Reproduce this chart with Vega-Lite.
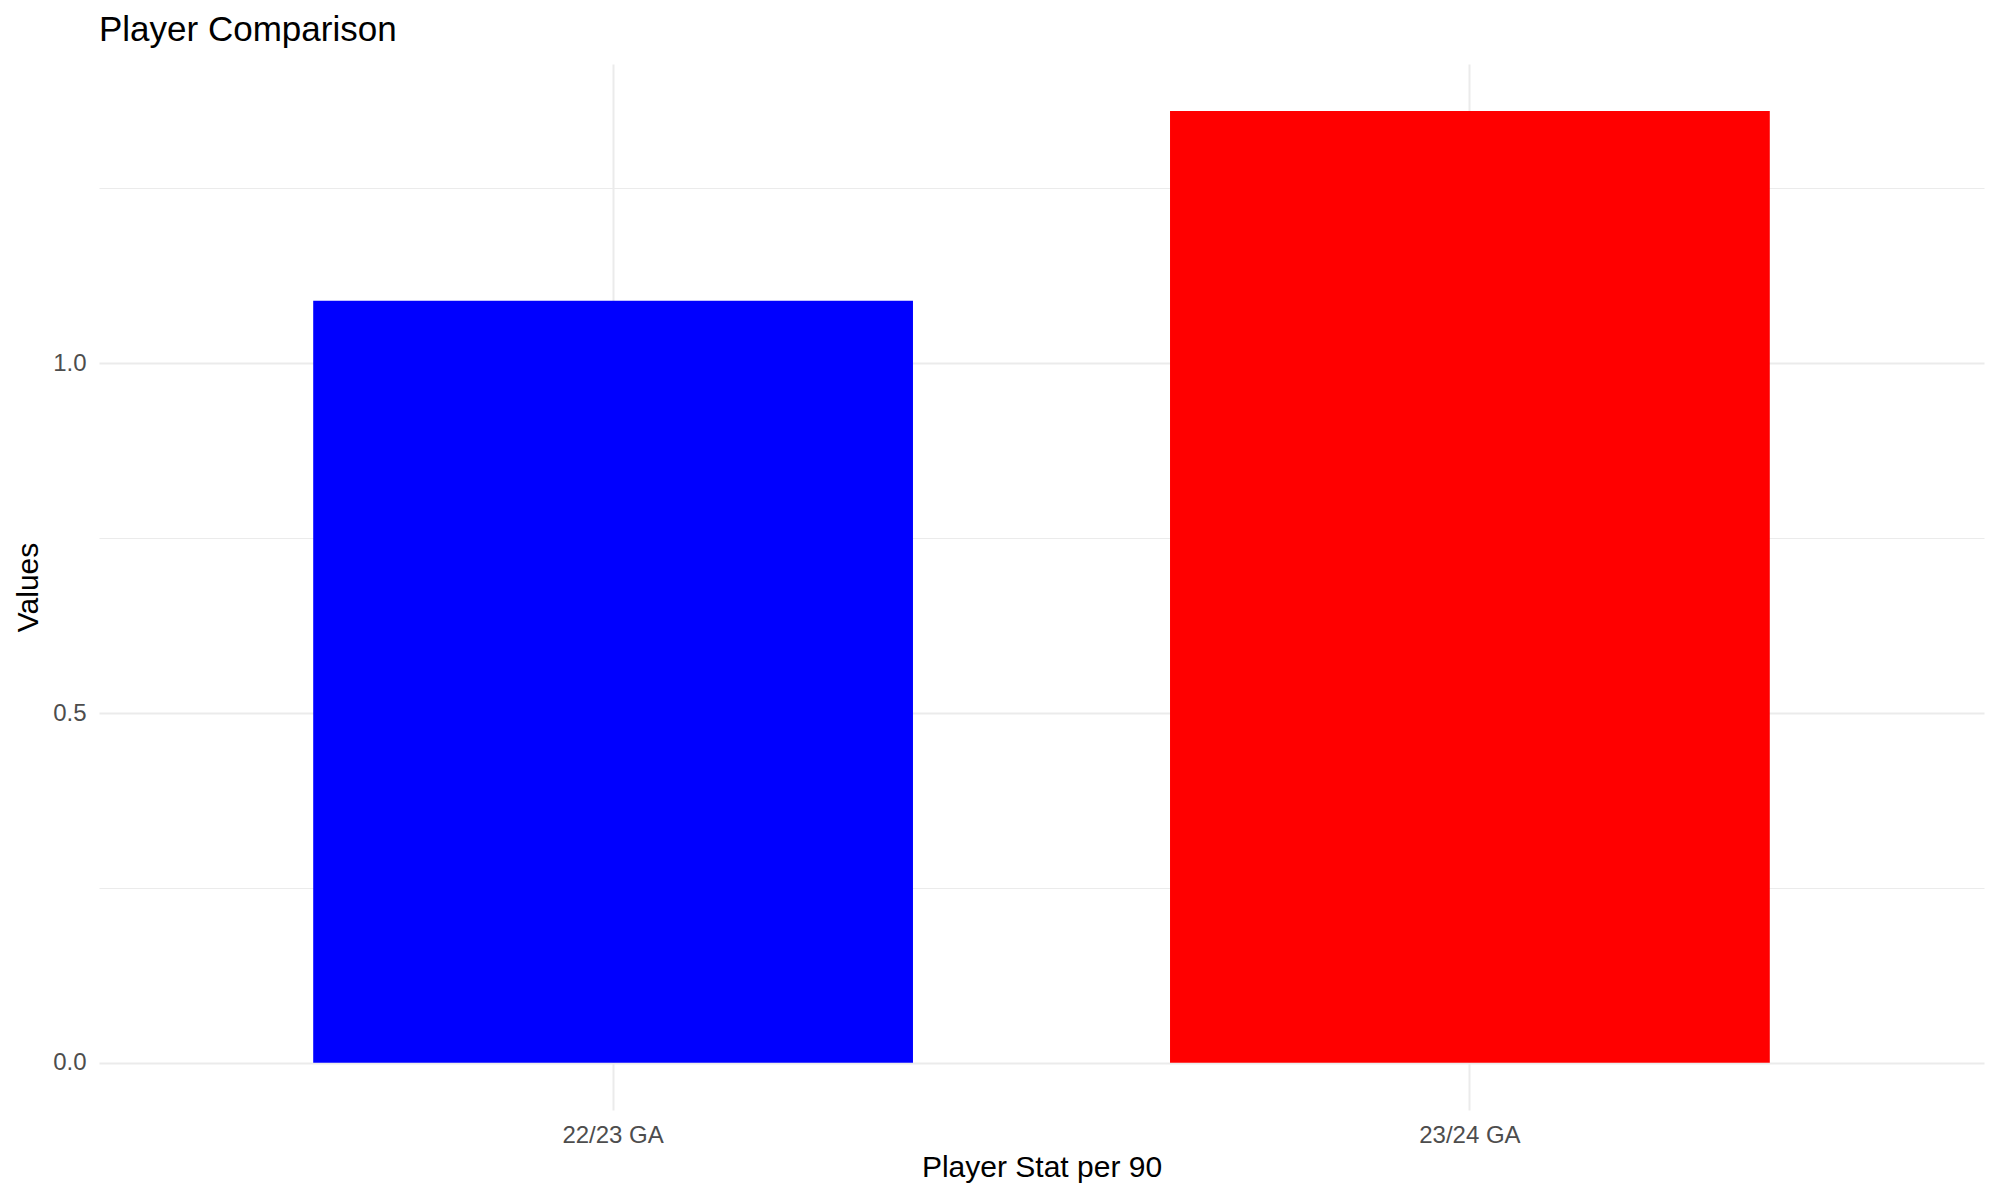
{
  "$schema": "https://vega.github.io/schema/vega-lite/v6.json",
  "autosize": {"type": "none"},
  "width": 1885,
  "height": 1046,
  "padding": {"left": 99, "top": 64, "right": 15, "bottom": 90},
  "background": "white",
  "config": {
    "font": "Liberation Sans",
    "view": {"stroke": null}
  },
  "title": {
    "text": "Player Comparison",
    "anchor": "start",
    "frame": "group",
    "fontSize": 35,
    "fontWeight": "normal",
    "color": "#000000",
    "font": "Liberation Sans",
    "baseline": "alphabetic",
    "offset": -11.5
  },
  "data": {
    "values": [
      {"stat": "22/23 GA", "value": 1.0895},
      {"stat": "23/24 GA", "value": 1.3607}
    ]
  },
  "mark": {"type": "bar"},
  "encoding": {
    "x": {
      "field": "stat",
      "type": "nominal",
      "sort": ["22/23 GA", "23/24 GA"],
      "scale": {"paddingInner": 0.3, "paddingOuter": 0.25},
      "axis": {
        "title": "Player Stat per 90",
        "titleFontSize": 30,
        "titleFontWeight": "normal",
        "titleColor": "#000000",
        "titleBaseline": "alphabetic",
        "titleY": 66.7,
        "labelAngle": 0,
        "labelFontSize": 24,
        "labelColor": "#4D4D4D",
        "labelBaseline": "alphabetic",
        "labelPadding": 32,
        "ticks": false,
        "tickSize": 0,
        "domain": false,
        "grid": true,
        "bandPosition": 0.5,
        "gridColor": "#EBEBEB",
        "gridWidth": 2
      }
    },
    "y": {
      "field": "value",
      "type": "quantitative",
      "scale": {"domain": [-0.0676, 1.428], "nice": false, "zero": false},
      "axis": {
        "title": "Values",
        "titleFontSize": 30,
        "titleFontWeight": "normal",
        "titleColor": "#000000",
        "titleAngle": -90,
        "titleAlign": "center",
        "titleBaseline": "alphabetic",
        "titleX": -62,
        "titleY": 523,
        "values": [0, 0.25, 0.5, 0.75, 1, 1.25],
        "labelExpr": "(datum.value == 0 || datum.value == 0.5 || datum.value == 1) ? format(datum.value, '.1f') : ''",
        "labelFontSize": 24,
        "labelColor": "#4D4D4D",
        "labelPadding": 13,
        "ticks": false,
        "tickSize": 0,
        "domain": false,
        "grid": true,
        "gridColor": "#EBEBEB",
        "gridWidth": {
          "condition": {"test": "datum.value == 0.25 || datum.value == 0.75 || datum.value == 1.25", "value": 1.2},
          "value": 2
        }
      }
    },
    "y2": {"datum": 0},
    "color": {
      "field": "stat",
      "type": "nominal",
      "scale": {"domain": ["22/23 GA", "23/24 GA"], "range": ["#0000FF", "#FF0000"]},
      "legend": null
    }
  }
}
